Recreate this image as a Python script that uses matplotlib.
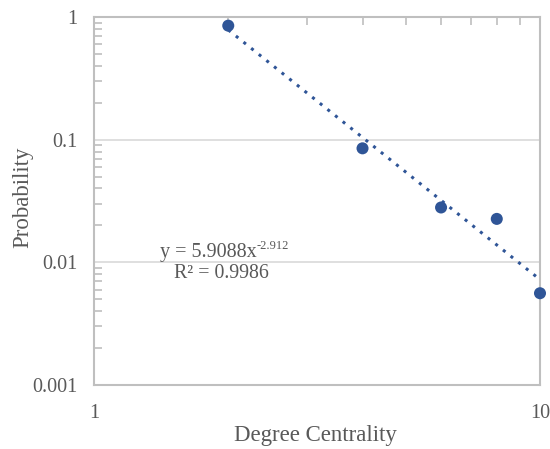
import numpy as np
import matplotlib
matplotlib.use("Agg")
import matplotlib.pyplot as plt
from matplotlib.ticker import LogLocator, NullFormatter, FixedLocator, FixedFormatter

# Data
degree = [2, 4, 6, 8, 10]
probability = [0.85, 0.085, 0.028, 0.0226, 0.0056]
fit_a = 5.9088
fit_b = -2.912
fit_r2 = 0.9986

plt.rcParams['font.family'] = ['Liberation Serif', 'DejaVu Serif']
plt.rcParams['axes.unicode_minus'] = False
txt = '#595959'
grid_c = '#d9d9d9'
spine_c = '#bfbfbf'
blue = '#2f5597'

W, H = 550, 449
fig = plt.figure(figsize=(W / 100, H / 100), dpi=100)
ax = fig.add_axes([94/W, 64/H, 446/W, 368/H])
ax.set_xscale('log')
ax.set_yscale('log')
ax.set_xlim(1, 10)
ax.set_ylim(0.001, 1)

xf = np.linspace(min(degree), max(degree), 200)
ax.plot(xf, fit_a * xf ** fit_b, linestyle=(0, (1, 2.2)), color=blue, lw=2.2, zorder=2)
ax.scatter(degree, probability, s=75, color=blue, zorder=3, edgecolors='none', clip_on=False)

ax.yaxis.grid(True, which='major', color=grid_c, lw=1.2)
ax.set_axisbelow(True)
for s in ax.spines.values():
    s.set_color(spine_c)
    s.set_linewidth(1.5)

ax.yaxis.set_major_locator(FixedLocator([0.001, 0.01, 0.1, 1]))
ax.yaxis.set_major_formatter(FixedFormatter(['0.001', '0.01', '0.1', '1']))
ax.yaxis.set_minor_locator(LogLocator(base=10, subs=np.arange(2, 10)))
ax.yaxis.set_minor_formatter(NullFormatter())
ax.xaxis.set_major_locator(FixedLocator([1, 10]))
ax.xaxis.set_major_formatter(FixedFormatter(['1', '10']))
ax.xaxis.set_minor_locator(LogLocator(base=10, subs=np.arange(2, 10)))
ax.xaxis.set_minor_formatter(NullFormatter())

ax.tick_params(axis='y', which='major', length=0, labelsize=14.5, labelcolor=txt, pad=12)
ax.tick_params(axis='y', which='minor', direction='in', length=6, color=spine_c, width=1.2)
ax.tick_params(axis='x', which='major', length=0, labelsize=14.5, labelcolor=txt, pad=14)
ax.tick_params(axis='x', which='minor', direction='in', length=6, color=spine_c, width=1.2,
               top=True, bottom=False)

fig.text(315/W, 1 - 435/H, 'Degree Centrality', fontsize=16.5, color=txt,
         ha='center', va='center')
fig.text(23/W, 1 - 197/H, 'Probability', fontsize=16.5, color=txt,
         ha='center', va='center', rotation=90)

# Trendline equation (base + superscript exponent)
fig.text(257/W, 1 - 257/H, 'y = %.4fx' % fit_a, fontsize=14.5, color=txt,
         ha='right', va='baseline')
fig.text(257/W, 1 - 249/H, '%.3f' % fit_b, fontsize=9, color=txt,
         ha='left', va='baseline')
fig.text(221/W, 1 - 273/H, 'R² = %.4f' % fit_r2, fontsize=14.3, color=txt,
         ha='center', va='center')

fig.savefig('out.png', dpi=100)
